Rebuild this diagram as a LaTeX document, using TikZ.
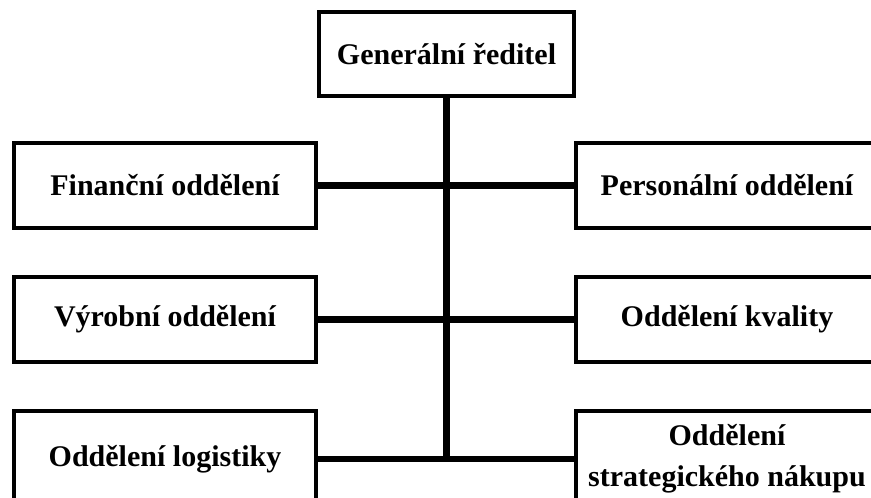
\documentclass[tikz,border=0pt]{standalone}
\usepackage{fontspec}
\setmainfont{Liberation Serif}
\usetikzlibrary{positioning}

\begin{document}
\begin{tikzpicture}[x=1pt, y=1pt, node distance=45pt and 256pt,
                      box/.style={draw, line width=4pt, minimum width=302pt,
                                  minimum height=85pt, inner sep=2pt, align=center,
                                  font=\fontsize{30}{41}\selectfont\bfseries},
                      head/.style={box, minimum width=255pt, minimum height=84pt},
                      low/.style={box, minimum height=96pt},
                      link/.style={line width=6.5pt}]
    \useasboundingbox (0,0) rectangle (871,-498);
    \clip (0,0) rectangle (871,-498);
    \node[head] (ged) at (446.5,-54) {Generální ředitel};
    \node[box] (fin) at (165,-185.5) {Finanční oddělení};
    \node[box, below=of fin] (vyr) {Výrobní oddělení};
    \node[low, below=of vyr] (log) {Oddělení logistiky};
    \node[box, right=of fin] (pers) {Personální oddělení};
    \node[box, right=of vyr] (kval) {Oddělení kvality};
    \node[low, right=of log] (nak) {Oddělení\\strategického nákupu};

    \draw[link] (ged) -- (ged |- log);
    \draw[link] (fin) -- (pers);
    \draw[link] (vyr) -- (kval);
    \draw[link] (log) -- (nak);
  \end{tikzpicture}
\end{document}
